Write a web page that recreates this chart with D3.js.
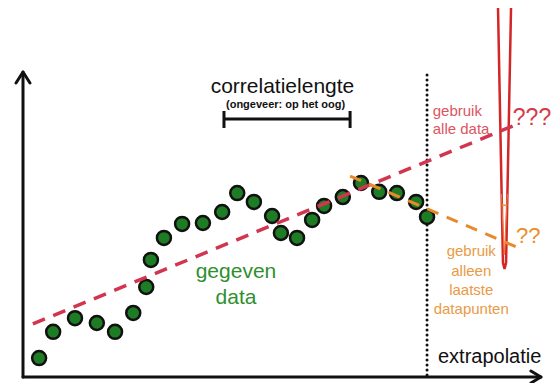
<!DOCTYPE html>
<html>
<head>
<meta charset="utf-8">
<script src="https://cdn.jsdelivr.net/npm/d3@7"></script>
<style>
  html, body { margin: 0; padding: 0; background: #fff; }
  svg { display: block; }
  text { font-family: "Liberation Sans", Arial, sans-serif; }
</style>
</head>
<body>
<script>
// ---- data (in chart units: x 0..100 = time, y 0..100 = value) ----
const pointX = [3.1, 5.8, 10.0, 14.2, 17.7, 21.2, 23.7, 24.6, 27.1, 30.6, 34.6, 38.3, 41.2,
                44.4, 47.9, 49.6, 52.7, 55.6, 57.9, 61.5, 65.0, 68.5, 71.9, 75.6, 77.7];
const pointY = [6.2, 14.8, 19.3, 17.7, 14.8, 21.0, 29.5, 38.4, 45.6, 50.2, 50.5, 54.1, 60.3,
                57.4, 52.8, 47.2, 45.6, 51.5, 56.1, 59.0, 63.6, 60.7, 60.3, 57.4, 52.5];
const fitAllData = [[1.9, 17.4], [95.6, 83.3]];
const fitRecent = [[62.9, 65.9], [96.3, 41.6]];
const horizonX = 77.7;
const corrLength = [38.65, 62.9];
const corrLevel = 84.6;
const uncertaintyNeedle = [[91.35, 121], [92.3, 37.4], [92.6, 35.4], [92.9, 37.4], [93.85, 121]];

const W = 556, H = 383;
const x = d3.scaleLinear().domain([0, 100]).range([23, 543]);
const y = d3.scaleLinear().domain([0, 100]).range([377, 72]);

const svg = d3.select("body").append("svg").attr("width", W).attr("height", H);
svg.append("rect").attr("width", W).attr("height", H).attr("fill", "#fff");

const line = d3.line().x(d => x(d[0])).y(d => y(d[1]));

// horizon dotted line
svg.append("line")
  .attr("x1", x(horizonX)).attr("x2", x(horizonX))
  .attr("y1", y(99)).attr("y2", y(0))
  .attr("stroke", "#111").attr("stroke-width", 3)
  .attr("stroke-linecap", "round").attr("stroke-dasharray", "0,5");

// axes
const ax = svg.append("g").attr("stroke", "#111").attr("stroke-width", 3)
  .attr("fill", "none").attr("stroke-linecap", "round").attr("stroke-linejoin", "round");
ax.append("path").attr("d", line([[0, 0], [0, 100]]));
ax.append("path").attr("d", `M${x(0) - 7},${y(100) + 11} L${x(0)},${y(100)} L${x(0) + 7},${y(100) + 11}`);
ax.append("path").attr("d", line([[0, 0], [99.6, 0]]));
ax.append("path").attr("d", `M${x(99.6) - 10},${y(0) - 6} L${x(99.6)},${y(0)} L${x(99.6) - 10},${y(0) + 6}`);

// uncertainty needle
svg.append("path").attr("d", line(uncertaintyNeedle))
  .attr("fill", "none").attr("stroke", "#d42626").attr("stroke-width", 2.5);
svg.append("path").attr("d", line([[92.0, 60], [92.55, 40], [93.15, 60]]))
  .attr("fill", "none").attr("stroke", "#ef7a3a").attr("stroke-width", 1);
svg.append("line").attr("x1", x(92.1)).attr("x2", x(93.1)).attr("y1", y(56.3)).attr("y2", y(56.3))
  .attr("stroke", "#e8902a").attr("stroke-width", 1.5);

// data points
svg.append("g").selectAll("circle").data(pointX.map((v, i) => [v, pointY[i]])).join("circle")
  .attr("cx", d => x(d[0])).attr("cy", d => y(d[1])).attr("r", 7)
  .attr("fill", "#1e7d24").attr("stroke", "#111").attr("stroke-width", 2.5);

// fits
svg.append("path").attr("d", line(fitAllData)).attr("fill", "none")
  .attr("stroke", "#d2364f").attr("stroke-width", 3.5).attr("stroke-dasharray", "13,9");
svg.append("path").attr("d", line(fitRecent)).attr("fill", "none")
  .attr("stroke", "#e8892b").attr("stroke-width", 3).attr("stroke-dasharray", "12,9");

// correlation length bracket
const br = svg.append("g").attr("stroke", "#111").attr("stroke-width", 3);
br.append("line").attr("x1", x(corrLength[0])).attr("x2", x(corrLength[1]))
  .attr("y1", y(corrLevel)).attr("y2", y(corrLevel));
corrLength.forEach(v => br.append("line").attr("x1", x(v)).attr("x2", x(v))
  .attr("y1", y(corrLevel) - 8).attr("y2", y(corrLevel) + 9));

// texts
function txt(t, px, py, size, color, anchor, weight) {
  svg.append("text").attr("x", x(px)).attr("y", y(py)).text(t)
    .attr("font-size", size).attr("fill", color)
    .attr("text-anchor", anchor || "start").attr("font-weight", weight || "normal");
}
txt("correlatielengte", 49.9, 93.1, 21, "#111", "middle");
txt("(ongeveer: op het oog)", 50.5, 88.2, 11, "#111", "middle", "bold");
txt("gebruik", 78.8, 85.7, 15, "#dc5562");
txt("alle data", 78.8, 79.6, 15, "#dc5562");
txt("???", 94.2, 82.6, 23, "#d63a48");
txt("??", 94.8, 43.9, 22, "#e8902a");
["gebruik", "alleen", "laatste", "datapunten"].forEach((t, i) =>
  txt(t, 86.2, [39.7, 33.1, 26.9, 20.7][i], 15, "#ea9a45", "middle"));
txt("gegeven", 40.96, 32.5, 21, "#2f8f2f", "middle");
txt("data", 40.96, 24.0, 21, "#2f8f2f", "middle");
txt("extrapolatie", 79.8, 4.6, 20, "#111");
</script>
</body>
</html>
